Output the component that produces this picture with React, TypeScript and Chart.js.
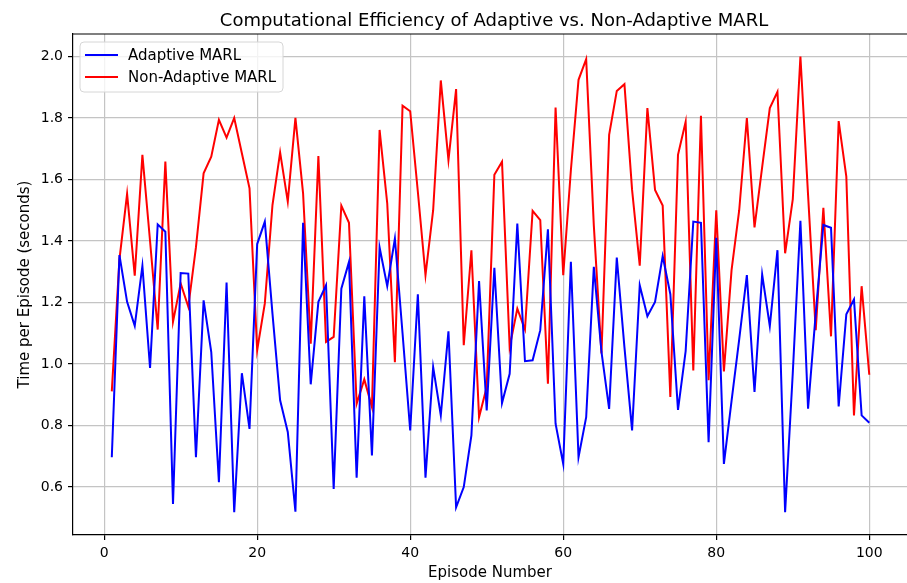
import React, { useEffect, useRef } from "react";
import { Chart, registerables } from "chart.js";

Chart.register(...registerables);

const episodes: number[] = Array.from({ length: 100 }, (_, i) => i + 1);

const adaptive: number[] = [
  0.697, 1.354, 1.202, 1.124, 1.319, 0.987, 1.454, 1.43, 0.545, 1.296,
  1.294, 0.697, 1.207, 1.039, 0.616, 1.265, 0.518, 0.97, 0.789, 1.39,
  1.463, 1.164, 0.882, 0.779, 0.52, 1.459, 0.934, 1.202, 1.256, 0.594,
  1.245, 1.332, 0.63, 1.22, 0.703, 1.379, 1.253, 1.408, 1.1, 0.784,
  1.227, 0.63, 0.99, 0.833, 1.106, 0.534, 0.6, 0.768, 1.27, 0.849,
  1.313, 0.873, 0.968, 1.457, 1.009, 1.012, 1.11, 1.438, 0.806, 0.675,
  1.332, 0.697, 0.827, 1.316, 1.039, 0.854, 1.346, 1.055, 0.784, 1.256,
  1.155, 1.202, 1.351, 1.227, 0.851, 1.042, 1.463, 1.459, 0.746, 1.41,
  0.675, 0.88, 1.08, 1.289, 0.909, 1.291, 1.123, 1.37, 0.518, 0.97,
  1.466, 0.855, 1.164, 1.452, 1.443, 0.862, 1.162, 1.21, 0.833, 0.809,
];

const nonAdaptive: number[] = [
  0.911, 1.34, 1.553, 1.287, 1.68, 1.4, 1.112, 1.658, 1.137, 1.262,
  1.186, 1.38, 1.62, 1.674, 1.794, 1.736, 1.8, 1.685, 1.571, 1.045,
  1.197, 1.517, 1.688, 1.528, 1.8, 1.555, 1.066, 1.676, 1.072, 1.088,
  1.515, 1.459, 0.871, 0.95, 0.86, 1.761, 1.522, 1.006, 1.84, 1.822,
  1.56, 1.289, 1.5, 1.922, 1.663, 1.894, 1.061, 1.37, 0.827, 0.925,
  1.615, 1.658, 1.055, 1.18, 1.112, 1.498, 1.468, 0.936, 1.834, 1.289,
  1.63, 1.924, 1.991, 1.45, 1.034, 1.745, 1.888, 1.91, 1.566, 1.32,
  1.832, 1.566, 1.515, 0.893, 1.68, 1.788, 0.979, 1.807, 0.947, 1.5,
  0.976, 1.305, 1.5, 1.8, 1.444, 1.64, 1.832, 1.885, 1.36, 1.535,
  2.0, 1.55, 1.11, 1.508, 1.09, 1.79, 1.609, 0.833, 1.253, 0.965,
];

const xTicks: number[] = [0, 20, 40, 60, 80, 100];
const yTicks: number[] = [0.6, 0.8, 1.0, 1.2, 1.4, 1.6, 1.8, 2.0];

const seriesNames: string[] = ["Adaptive MARL", "Non-Adaptive MARL"];
const seriesColors: string[] = ["#0000ff", "#ff0000"];

const titleText = "Computational Efficiency of Adaptive vs. Non-Adaptive MARL";
const xLabel = "Episode Number";
const yLabel = "Time per Episode (seconds)";

const FONT = "'DejaVu Sans', sans-serif";
const W = 907;
const H = 583;

const decorPlugin = {
  id: "decor",
  afterDraw(chart: any) {
    const { ctx, chartArea } = chart;
    const { left, top } = chartArea;
    ctx.save();
    // top spine
    ctx.strokeStyle = "#000";
    ctx.lineWidth = 1.2;
    ctx.beginPath();
    ctx.moveTo(left, top);
    ctx.lineTo(W, top);
    ctx.stroke();
    // title
    ctx.fillStyle = "#000";
    ctx.font = `18px ${FONT}`;
    ctx.textAlign = "center";
    ctx.textBaseline = "middle";
    ctx.fillText(titleText, 494, 21);
    // legend
    const lx = 80, ly = 42, lw = 203, lh = 50, r = 4;
    ctx.beginPath();
    ctx.moveTo(lx + r, ly);
    ctx.lineTo(lx + lw - r, ly);
    ctx.arcTo(lx + lw, ly, lx + lw, ly + r, r);
    ctx.lineTo(lx + lw, ly + lh - r);
    ctx.arcTo(lx + lw, ly + lh, lx + lw - r, ly + lh, r);
    ctx.lineTo(lx + r, ly + lh);
    ctx.arcTo(lx, ly + lh, lx, ly + lh - r, r);
    ctx.lineTo(lx, ly + r);
    ctx.arcTo(lx, ly, lx + r, ly, r);
    ctx.closePath();
    ctx.fillStyle = "rgba(255,255,255,0.8)";
    ctx.fill();
    ctx.strokeStyle = "#d6d6d6";
    ctx.lineWidth = 1;
    ctx.stroke();
    ctx.font = `15px ${FONT}`;
    ctx.textAlign = "left";
    ctx.textBaseline = "middle";
    seriesNames.forEach((name, i) => {
      const y = 55 + i * 22;
      ctx.strokeStyle = seriesColors[i];
      ctx.lineWidth = 2;
      ctx.beginPath();
      ctx.moveTo(85, y);
      ctx.lineTo(118, y);
      ctx.stroke();
      ctx.fillStyle = "#000";
      ctx.fillText(name, 128, y + 1);
    });
    ctx.restore();
  },
};

export default function App() {
  const ref = useRef<HTMLCanvasElement | null>(null);

  useEffect(() => {
    if (!ref.current) return;
    const tickFont = { family: FONT, size: 14 };
    const labelFont = { family: FONT, size: 15 };
    const chart = new Chart(ref.current, {
      type: "line",
      data: {
        datasets: [adaptive, nonAdaptive].map((vals, k) => ({
          label: seriesNames[k],
          data: episodes.map((e, i) => ({ x: e, y: vals[i] })),
          borderColor: seriesColors[k],
          backgroundColor: seriesColors[k],
          borderWidth: 2,
          pointRadius: 0,
          tension: 0,
          fill: false,
        })),
      },
      options: {
        animation: false,
        responsive: false,
        devicePixelRatio: 1,
        layout: { padding: { top: 34, right: -4, left: 0, bottom: 0 } },
        plugins: {
          legend: { display: false },
          title: { display: false },
          tooltip: { enabled: false },
        },
        scales: {
          x: {
            type: "linear",
            min: -4.07,
            max: 104.93,
            afterBuildTicks: (scale: any) => {
              scale.ticks = xTicks.map((v) => ({ value: v }));
            },
            afterFit: (scale: any) => {
              scale.height = 48;
            },
            ticks: {
              font: tickFont,
              color: "#000",
              padding: 5,
              maxRotation: 0,
              autoSkip: false,
              callback: (v: any) => String(v),
            },
            grid: {
              color: "#c4c4c4",
              lineWidth: 1.2,
              tickColor: "#000",
              tickLength: 5,
            },
            border: { display: true, color: "#000", width: 1.2 },
            title: {
              display: true,
              text: xLabel,
              font: labelFont,
              color: "#000",
              padding: { top: 4, bottom: 1 },
            },
          },
          y: {
            type: "linear",
            min: 0.444,
            max: 2.073,
            afterBuildTicks: (scale: any) => {
              scale.ticks = yTicks.map((v) => ({ value: v }));
            },
            afterFit: (scale: any) => {
              scale.width = 73;
            },
            ticks: {
              font: tickFont,
              color: "#000",
              padding: 5,
              autoSkip: false,
              callback: (v: any) => Number(v).toFixed(1),
            },
            grid: {
              color: "#c4c4c4",
              lineWidth: 1.2,
              tickColor: "#000",
              tickLength: 5,
            },
            border: { display: true, color: "#000", width: 1.2 },
            title: {
              display: true,
              text: yLabel,
              font: labelFont,
              color: "#000",
              padding: { top: 16, bottom: 0 },
            },
          },
        },
      },
      plugins: [decorPlugin],
    } as any);
    return () => chart.destroy();
  }, []);

  return (
    <div
      style={{
        position: "fixed",
        left: 0,
        top: 0,
        width: W,
        height: H,
        overflow: "hidden",
        background: "#fff",
      }}
    >
      <canvas
        ref={ref}
        width={W}
        height={H}
        style={{ width: W, height: H, display: "block" }}
      />
    </div>
  );
}
